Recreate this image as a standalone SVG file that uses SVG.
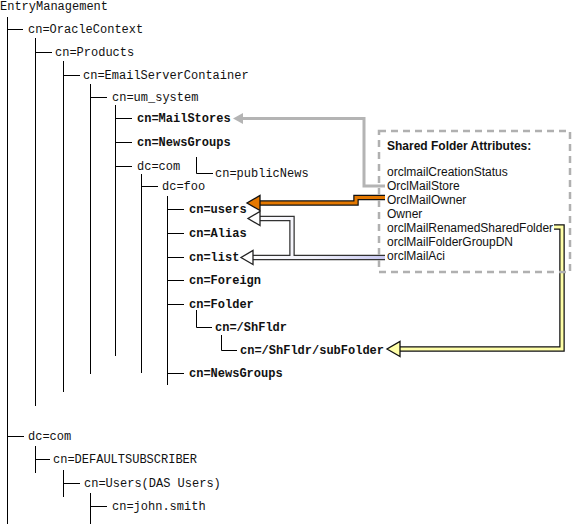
<svg xmlns="http://www.w3.org/2000/svg" width="573" height="524" viewBox="0 0 573 524">
<style>
.t{font-family:"Liberation Mono","Courier New",monospace;font-size:12px;fill:#111}
.b{font-weight:bold}
.s{font-family:"Liberation Sans",Arial,sans-serif;font-size:12px;fill:#111}
.ln{stroke:#000;stroke-width:1;fill:none}
.box{fill:none;stroke:#b0b0b0;stroke-width:2.5;stroke-dasharray:7 5}
.gray{fill:none;stroke:#b4b4b4;stroke-width:3}
.outer{fill:none;stroke:#111;stroke-width:5.5;stroke-linejoin:miter}
.outerL{fill:none;stroke:#333;stroke-width:5.5;stroke-linejoin:miter}
.inO{fill:none;stroke:#e47800;stroke-width:3}
.inY{fill:none;stroke:#ffffa8;stroke-width:3}
.inL{fill:none;stroke:url(#lav);stroke-width:3}
</style>
<defs>
<linearGradient id="lav" gradientUnits="userSpaceOnUse" x1="240" y1="0" x2="385" y2="0">
<stop offset="0" stop-color="#ffffff"/><stop offset="0.5" stop-color="#f2f2fb"/><stop offset="1" stop-color="#c8c8f0"/>
</linearGradient>
<marker id="hGray" markerUnits="userSpaceOnUse" markerWidth="12" markerHeight="12" viewBox="0 0 12 12" refX="0" refY="6" orient="auto" overflow="visible">
<path d="M0,0.5 L10,6 L0,11.5 Z" fill="#b4b4b4"/>
</marker>
<marker id="hOrange" markerUnits="userSpaceOnUse" markerWidth="16" markerHeight="18" viewBox="0 0 16 18" refX="1" refY="9" orient="auto" overflow="visible">
<path d="M1,1.5 L14,9 L1,16.5 Z" fill="#e47800" stroke="#111" stroke-width="1.3" stroke-linejoin="miter"/>
</marker>
<marker id="hOpen" markerUnits="userSpaceOnUse" markerWidth="16" markerHeight="18" viewBox="0 0 16 18" refX="1" refY="9" orient="auto" overflow="visible">
<path d="M1,2 L13,9 L1,16 Z" fill="#fff" stroke="#222" stroke-width="1.3"/>
</marker>
<marker id="hYellow" markerUnits="userSpaceOnUse" markerWidth="16" markerHeight="18" viewBox="0 0 16 18" refX="1" refY="9" orient="auto" overflow="visible">
<path d="M1,1.5 L14,9 L1,16.5 Z" fill="#ffffa8" stroke="#111" stroke-width="1.3"/>
</marker>
</defs>

<g id="connectors">
<g id="tree-lines" class="ln">
<path d="M7.5,17 V524 M7.5,29.5 H23"/>
<path d="M35.5,38 V406 M35.5,52.5 H52"/>
<path d="M63.5,61 V392 M63.5,75.5 H80"/>
<path d="M90.5,84 V374 M90.5,97.5 H107"/>
<path d="M115.5,105 V356 M115.5,118.5 H132 M115.5,142.5 H132 M115.5,166.5 H132"/>
<path d="M196.5,157 V173.5 H213"/>
<path d="M141.5,174 V373 M141.5,186.5 H158"/>
<path d="M167.5,196 V385 M167.5,209.5 H184 M167.5,233.5 H184 M167.5,257.5 H184 M167.5,280.5 H184 M167.5,304.5 H184 M167.5,373.5 H184"/>
<path d="M196.5,310 V327.5 H212"/>
<path d="M221.5,335 V350.5 H237"/>
<path d="M7.5,436.5 H24"/>
<path d="M35.5,446 V473 M35.5,459.5 H50"/>
<path d="M63.5,470 V497 M63.5,483.5 H80"/>
<path d="M90.5,493 V524 M90.5,506.5 H107"/>
</g>
<g id="arrow-mailstore">
<path class="gray" d="M385,186 H364 V118.5 H243" marker-end="url(#hGray)"/>
</g>
<g id="arrow-owner">
<path class="outer" d="M385,197.5 H356 V203 H260"/>
<path class="inO" d="M385,197.5 H356 V203 H260" marker-end="url(#hOrange)"/>
</g>
<g id="arrow-aci">
<path class="outerL" d="M385,257.5 H253"/>
<path class="outerL" d="M292,257.5 V218.5 H260"/>
<path class="inL" d="M385,257.5 H253" marker-end="url(#hOpen)"/>
<path class="inL" d="M292,257.5 V218.5 H260" marker-end="url(#hOpen)"/>
</g>
<g id="arrow-renamed">
<path class="outer" d="M554,227 H562 V349 H400"/>
<path class="inY" d="M554,227 H562 V349 H400" marker-end="url(#hYellow)"/>
</g>
</g>

<g id="n-entry"><text class="t" x="0" y="10">EntryManagement</text></g>
<g id="n-oraclecontext"><text class="t" x="28" y="33">cn=OracleContext</text></g>
<g id="n-products"><text class="t" x="55" y="56">cn=Products</text></g>
<g id="n-emailserver"><text class="t" x="83" y="79">cn=EmailServerContainer</text></g>
<g id="n-umsystem"><text class="t" x="112" y="101">cn=um_system</text></g>
<g id="n-mailstores"><text class="t b" x="137" y="122">cn=MailStores</text></g>
<g id="n-newsgroups1"><text class="t b" x="137" y="146">cn=NewsGroups</text></g>
<g id="n-dccom1"><text class="t" x="137" y="170">dc=com</text></g>
<g id="n-publicnews"><text class="t" x="215" y="177">cn=publicNews</text></g>
<g id="n-dcfoo"><text class="t" x="162" y="190">dc=foo</text></g>
<g id="n-users"><text class="t b" x="189" y="213">cn=users</text></g>
<g id="n-alias"><text class="t b" x="189" y="237">cn=Alias</text></g>
<g id="n-list"><text class="t b" x="189" y="261">cn=list</text></g>
<g id="n-foreign"><text class="t b" x="189" y="284">cn=Foreign</text></g>
<g id="n-folder"><text class="t b" x="189" y="308">cn=Folder</text></g>
<g id="n-shfldr"><text class="t b" x="215" y="331">cn=/ShFldr</text></g>
<g id="n-subfolder"><text class="t b" x="240" y="354">cn=/ShFldr/subFolder</text></g>
<g id="n-newsgroups2"><text class="t b" x="189" y="377">cn=NewsGroups</text></g>
<g id="n-dccom2"><text class="t" x="28" y="440">dc=com</text></g>
<g id="n-defaultsub"><text class="t" x="53" y="463">cn=DEFAULTSUBSCRIBER</text></g>
<g id="n-users-das"><text class="t" x="84" y="487">cn=Users(DAS Users)</text></g>
<g id="n-johnsmith"><text class="t" x="112" y="510">cn=john.smith</text></g>

<g id="n-attributes">
<rect class="box" x="379" y="131" width="191" height="141"/>
<text class="s b" x="387" y="150">Shared Folder Attributes:</text>
<text class="s" x="387" y="176">orclmailCreationStatus</text>
<text class="s" x="387" y="190">OrclMailStore</text>
<text class="s" x="387" y="204">OrclMailOwner</text>
<text class="s" x="387" y="218">Owner</text>
<text class="s" x="387" y="232">orclMailRenamedSharedFolder</text>
<text class="s" x="387" y="246">orclMailFolderGroupDN</text>
<text class="s" x="387" y="260">orclMailAci</text>
</g>
</svg>
